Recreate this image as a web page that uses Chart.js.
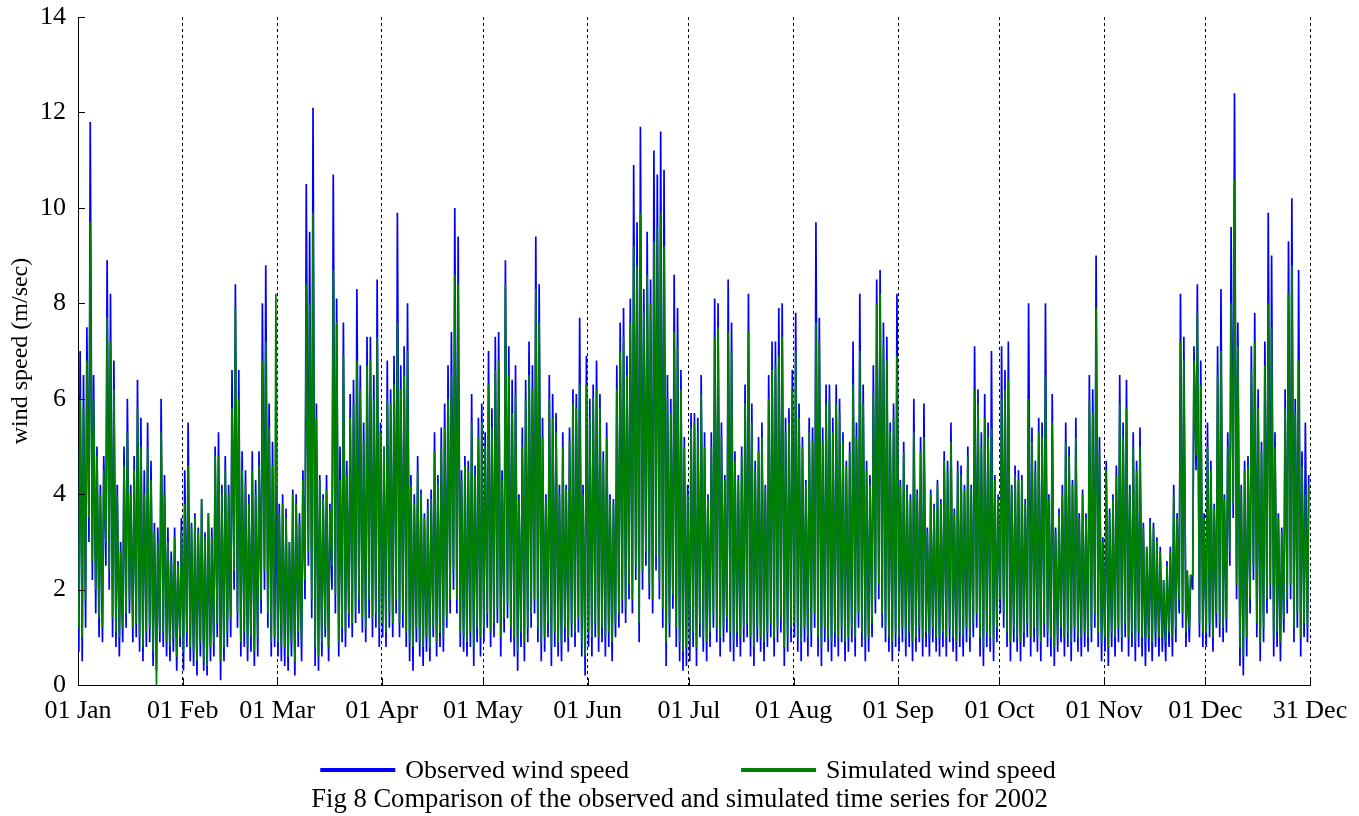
<!DOCTYPE html>
<html>
<head>
<meta charset="utf-8">
<script src="https://cdn.jsdelivr.net/npm/chart.js@4.4.0/dist/chart.umd.min.js"></script>
<style>
  html, body { margin: 0; padding: 0; background: #ffffff; }
  #wrap { width: 1359px; height: 816px; }
</style>
</head>
<body>
<div id="wrap"><canvas id="c" width="1359" height="816"></canvas></div>
<script>
// ---- tick labels / axis data ----
const monthTickHours = [0, 744, 1416, 2160, 2880, 3624, 4344, 5088, 5832, 6552, 7296, 8016, 8760];
const monthTickLabels = ['01 Jan','01 Feb','01 Mar','01 Apr','01 May','01 Jun','01 Jul','01 Aug','01 Sep','01 Oct','01 Nov','01 Dec','31 Dec'];
const seriesNames = ['Observed wind speed', 'Simulated wind speed'];
const captionText = 'Fig 8 Comparison of the observed and simulated time series for 2002';

// ---- daily peaks / lows (m/s), one value per day, Jan..Dec ----
const obsDailyPeak = [
  7.0,6.5,7.5,11.8,6.5,5.0,4.2,4.8,8.9,8.2,6.8,4.2,3.0,5.0,6.0,4.2,4.8,6.4,5.6,4.5,5.5,4.7,3.4,3.3,6.0,4.4,3.3,2.8,3.3,2.6,3.5,
  4.5,5.5,3.4,3.6,3.3,3.9,3.2,3.6,3.3,5.0,5.3,4.2,4.8,4.2,6.6,8.4,6.6,4.9,4.5,4.0,4.9,4.3,4.9,8.0,8.8,5.9,5.1,4.2,
  3.8,4.0,3.7,3.0,4.1,4.0,3.6,4.5,10.5,9.5,12.1,5.9,4.4,4.0,4.4,3.8,10.7,8.1,5.0,7.6,4.7,6.1,6.4,8.3,6.7,5.5,7.3,7.3,6.5,8.5,5.5,
  5.0,6.8,6.2,6.9,9.9,6.7,7.1,8.0,4.4,4.0,4.8,4.1,3.6,3.9,4.1,5.3,4.4,5.4,5.9,6.7,7.4,10.0,9.4,4.5,4.8,4.7,6.1,4.6,5.6,5.9,
  5.3,7.0,5.8,7.3,7.4,4.5,8.9,7.1,6.4,6.7,4.0,5.4,6.4,7.2,6.7,9.4,8.4,5.6,4.0,6.5,6.1,5.7,4.2,5.3,4.2,5.4,6.2,6.1,7.7,4.2,6.9,
  6.0,6.3,6.8,6.1,4.9,5.5,4.0,3.9,6.7,7.6,7.9,6.9,8.1,10.9,9.7,11.7,8.3,9.5,8.5,11.2,10.7,11.6,10.8,6.5,6.0,8.6,7.9,6.6,5.2,4.2,
  5.7,5.7,5.6,6.5,5.3,4.0,5.3,8.1,8.0,5.5,4.4,8.5,7.6,4.9,4.4,5.0,6.3,8.2,5.9,4.7,5.2,5.5,4.2,6.5,7.2,7.2,7.9,8.0,5.6,5.8,6.6,
  7.8,5.9,5.2,4.3,5.6,5.4,9.7,7.7,5.4,6.3,6.3,5.6,6.3,6.0,5.3,4.7,5.1,7.2,5.5,8.2,6.3,4.7,4.4,6.7,8.5,8.7,7.6,7.3,5.5,5.9,8.2,
  4.3,5.1,4.2,4.0,6.0,4.1,5.2,5.9,3.3,4.1,3.8,4.3,3.9,4.9,4.7,5.5,3.7,4.7,4.6,4.2,5.0,4.2,7.1,6.2,5.3,6.1,5.5,7.0,4.4,4.0,
  7.1,6.6,7.2,4.2,4.6,4.5,4.4,3.9,8.0,5.4,4.7,5.6,5.5,8.0,4.0,6.1,3.3,3.7,4.2,5.5,5.0,4.3,5.6,3.6,4.1,3.6,6.5,6.2,9.0,5.2,3.1,
  4.7,3.7,4.0,4.6,6.5,5.5,6.4,4.2,5.3,4.7,5.4,3.4,2.9,3.5,3.4,3.1,2.9,2.2,2.6,2.9,4.2,3.6,8.2,7.3,2.4,2.3,7.1,8.4,6.8,3.6,
  5.5,4.7,3.8,7.1,8.3,4.0,5.3,9.6,12.4,7.6,4.2,4.7,4.8,7.1,7.8,6.2,5.1,7.2,9.9,9.0,5.3,3.6,3.3,6.2,9.3,10.2,6.0,8.7,4.9,5.5,4.4
];
const obsDailyLow = [
  0.7,0.5,1.2,3.0,2.2,1.5,1.0,0.9,2.5,2.0,1.0,0.8,0.6,0.9,1.2,1.5,0.9,1.0,0.7,0.5,0.8,0.9,0.4,0.3,0.9,0.8,0.6,0.5,0.7,0.3,0.8,
  0.3,0.8,0.5,0.4,0.2,0.6,0.3,0.2,0.5,0.6,1.0,0.1,0.5,0.8,1.0,2.0,1.2,0.6,0.8,0.5,0.7,0.4,0.6,1.5,2.0,1.2,0.6,0.8,
  0.6,0.5,0.4,0.3,0.6,0.2,0.8,0.5,1.8,2.5,1.4,0.4,0.3,0.6,1.0,0.5,2.0,1.5,0.6,0.9,0.8,1.2,1.0,1.3,1.5,1.1,0.9,1.4,1.0,1.2,0.8,
  1.0,0.8,1.2,1.0,1.5,1.0,1.2,0.8,0.5,0.3,0.9,0.6,0.4,0.7,0.5,1.0,0.6,0.8,0.7,1.2,1.5,2.0,1.5,0.8,0.7,0.6,0.8,0.4,0.9,0.6,
  0.9,1.2,0.8,1.0,1.3,0.6,1.1,1.4,0.9,0.6,0.3,0.8,0.5,0.9,1.2,1.5,0.9,0.5,0.7,1.0,0.4,0.8,0.6,0.5,0.9,0.7,1.0,0.8,1.1,0.6,0.2,
  0.8,0.6,1.0,0.7,0.9,0.6,0.8,0.5,1.0,1.2,1.5,1.3,1.8,1.5,2.2,0.9,2.0,2.5,1.8,1.5,2.4,1.8,1.2,0.4,1.0,1.6,0.8,0.5,0.3,0.4,
  0.5,0.8,0.4,1.0,0.7,0.5,0.8,1.2,0.9,0.6,0.9,1.1,0.7,0.5,0.8,0.6,0.9,1.0,0.6,0.4,0.9,0.7,0.5,0.8,1.0,0.6,0.9,1.1,0.4,0.7,0.9,
  1.0,0.7,0.5,0.9,0.6,0.8,1.2,0.6,0.4,0.9,0.7,0.5,0.8,0.6,0.9,0.5,0.7,0.9,0.6,1.2,0.8,0.5,0.7,1.0,1.5,1.8,1.2,0.9,0.7,0.5,0.8,
  0.7,0.9,0.6,0.8,0.5,0.7,0.9,0.6,0.8,0.6,0.9,0.7,0.6,0.8,0.6,0.9,0.7,0.5,0.8,0.6,0.9,0.7,1.0,1.2,0.6,0.4,0.8,0.7,0.5,0.9,
  1.5,1.2,0.8,0.5,0.9,0.7,0.5,0.8,1.0,0.6,0.9,0.7,0.5,1.0,0.8,0.6,0.4,0.7,0.9,0.6,0.8,0.5,0.9,0.7,0.6,0.8,0.7,0.9,1.2,0.8,0.5,
  0.7,0.4,0.8,0.6,0.9,0.7,1.0,0.6,0.8,0.5,0.8,0.6,0.4,0.7,0.5,0.8,0.6,0.7,0.5,0.8,0.6,0.9,1.5,1.2,0.8,0.9,2.0,4.5,1.0,0.8,
  0.8,1.0,0.7,1.2,1.0,0.9,1.1,2.5,3.5,1.8,0.4,0.2,0.6,1.5,2.2,1.0,0.5,0.9,1.5,1.8,0.6,0.8,0.5,1.1,1.5,1.8,0.9,1.2,0.6,1.0,0.9
];
const simDailyPeak = [
  6.0,5.8,6.8,9.7,6.0,4.8,4.0,4.5,7.7,7.2,6.2,4.0,2.8,4.6,5.3,4.0,4.5,5.8,5.0,4.0,5.0,4.3,3.2,3.0,5.3,4.0,3.0,2.6,3.1,2.5,3.2,
  3.8,4.6,3.3,3.5,3.2,3.9,3.1,3.6,3.1,4.8,4.8,4.0,4.5,4.0,5.8,7.9,6.0,4.5,4.2,3.8,4.5,4.0,4.6,6.8,7.2,5.4,4.6,8.2,
  3.6,3.8,3.5,3.0,4.0,3.8,3.4,4.3,8.4,8.0,9.9,5.6,4.3,3.9,4.1,3.7,8.7,7.6,4.3,6.9,4.4,5.6,5.9,6.8,6.2,5.1,6.7,6.8,6.0,7.3,5.3,
  5.0,6.0,5.9,6.3,7.6,6.2,6.5,7.0,4.2,3.8,4.5,4.0,3.5,3.7,3.9,4.9,4.2,5.0,5.4,6.0,6.5,8.6,8.4,4.3,4.6,4.5,5.5,4.4,5.2,5.5,
  5.0,6.3,5.4,6.6,6.8,4.3,8.4,6.5,5.7,6.1,3.9,5.0,6.0,6.5,6.2,8.3,7.6,5.2,3.9,6.0,5.6,5.3,4.0,5.0,4.1,5.1,5.9,5.8,6.3,4.0,6.3,
  5.6,6.0,6.2,5.8,4.7,5.2,3.9,3.8,6.2,7.0,7.3,6.5,7.6,9.2,8.8,9.9,7.8,8.6,8.0,9.3,9.6,9.9,9.2,6.0,5.7,7.4,7.1,6.2,5.0,4.0,
  5.4,5.5,5.3,6.1,5.0,3.9,5.0,7.3,7.5,5.2,4.3,7.4,7.0,4.7,4.3,4.8,5.9,7.4,5.5,4.5,4.9,5.2,4.1,6.0,6.6,6.7,6.9,7.3,5.3,5.5,6.2,
  7.0,5.6,5.0,4.2,5.3,5.1,7.6,7.2,5.1,5.9,6.0,5.3,5.9,5.7,5.1,4.6,4.9,6.3,5.2,7.0,5.9,4.5,4.2,6.1,8.0,8.2,7.1,6.8,5.3,5.6,6.9,
  4.2,4.9,4.1,3.9,5.3,4.0,4.9,5.2,3.2,4.0,3.7,4.2,3.8,4.7,4.5,5.1,3.6,4.5,4.4,4.1,4.8,4.1,6.2,5.9,5.0,5.6,5.2,5.4,4.3,3.9,
  6.0,6.2,6.4,4.1,4.4,4.3,4.3,3.8,6.0,5.1,4.5,5.3,5.2,6.5,3.9,5.5,3.2,3.6,4.0,5.1,4.8,4.2,5.2,3.5,4.0,3.5,6.0,5.7,7.9,4.9,3.0,
  4.5,3.6,3.9,4.4,5.9,5.2,5.8,4.1,5.0,4.5,5.0,3.3,2.9,3.4,3.3,3.0,2.8,2.2,2.5,2.8,4.0,3.5,7.2,6.8,2.4,2.3,6.8,7.8,6.3,3.5,
  5.0,4.5,3.7,6.5,7.0,3.9,5.0,8.0,10.6,7.1,4.1,4.5,4.6,6.6,7.2,5.8,4.9,6.7,8.0,7.5,5.0,3.5,3.2,5.8,8.2,8.8,5.7,6.8,4.6,4.0,4.2
];
const simDailyLow = [
  1.2,1.0,1.8,3.5,2.6,2.0,1.4,1.2,3.0,2.4,1.4,1.1,1.0,1.2,1.5,1.8,1.2,1.3,1.0,0.8,1.1,1.2,0.7,0.0,1.1,1.1,0.9,0.8,1.0,0.6,1.0,
  0.7,1.1,0.8,0.7,0.5,0.9,0.5,0.4,0.8,0.9,1.3,0.5,0.8,1.1,1.4,2.4,1.5,0.9,1.1,0.8,1.0,0.7,1.0,1.8,2.4,1.5,0.9,1.0,
  0.9,0.8,0.8,0.6,0.9,0.5,1.1,0.9,2.2,2.8,1.8,0.8,0.6,0.9,1.2,0.8,2.5,1.9,0.9,1.2,1.1,1.5,1.3,1.6,1.8,1.4,1.2,1.8,1.4,1.5,1.2,
  1.3,1.1,1.5,1.3,1.8,1.3,1.5,1.1,0.9,0.8,1.2,0.9,0.8,1.0,0.8,1.2,0.9,1.1,1.0,1.4,1.8,2.4,1.8,1.1,1.0,0.9,1.1,0.8,1.2,1.0,
  1.2,1.5,1.1,1.3,1.6,1.0,1.4,1.7,1.2,1.0,0.7,1.1,0.9,1.2,1.5,1.8,1.2,0.9,1.0,1.3,0.8,1.1,0.9,0.9,1.2,1.0,1.3,1.1,1.4,0.9,0.6,
  1.1,1.0,1.3,1.0,1.2,1.0,1.1,0.9,1.3,1.5,1.8,1.6,2.1,1.8,2.5,1.3,2.4,2.8,2.1,1.8,2.7,2.2,1.6,0.9,1.3,1.9,1.2,0.9,0.7,0.8,
  0.9,1.1,0.8,1.3,1.0,0.9,1.1,1.5,1.2,1.0,1.2,1.4,1.1,0.9,1.1,1.0,1.2,1.3,1.0,0.8,1.2,1.0,0.9,1.1,1.3,1.0,1.2,1.4,0.8,1.0,1.2,
  1.3,1.0,0.9,1.2,1.0,1.1,1.5,1.0,0.8,1.2,1.0,0.9,1.1,1.0,1.2,0.9,1.0,1.2,1.0,1.5,1.1,0.9,1.0,1.3,1.8,2.1,1.5,1.2,1.0,0.9,1.1,
  1.0,1.2,1.0,1.1,0.9,1.0,1.2,1.0,1.1,1.0,1.2,1.0,1.0,1.1,1.0,1.2,1.0,0.9,1.1,1.0,1.2,1.0,1.3,1.5,1.0,0.8,1.1,1.0,0.9,1.2,
  1.8,1.5,1.1,0.9,1.2,1.0,0.9,1.1,1.3,1.0,1.2,1.0,0.9,1.3,1.1,1.0,0.8,1.0,1.2,1.0,1.1,0.9,1.2,1.0,1.0,1.1,1.0,1.2,1.5,1.1,0.9,
  1.0,0.8,1.1,1.0,1.2,1.0,1.3,1.0,1.1,0.9,1.1,1.0,0.9,1.0,0.9,1.1,1.0,1.0,0.9,1.1,1.0,1.2,1.8,1.5,1.1,1.2,2.3,4.8,1.3,1.1,
  1.1,1.3,1.0,1.5,1.3,1.2,1.4,2.8,3.8,2.1,0.8,0.6,1.0,1.8,2.5,1.3,0.9,1.2,1.8,2.1,1.0,1.1,0.9,1.4,1.8,2.1,1.2,1.5,1.0,1.3,1.2
];

// hour of day at which the daily low / peak value is placed
const lowHour = 6, peakHour = 15;

function buildSeries(lows, peaks) {
  const pts = [];
  for (let d = 0; d < peaks.length; d++) {
    pts.push({ x: d * 24 + lowHour, y: lows[d] });
    pts.push({ x: d * 24 + peakHour, y: peaks[d] });
  }
  return pts;
}

const FONT = '"Liberation Serif", "Times New Roman", Times, serif';
Chart.defaults.font.family = FONT;
Chart.defaults.color = '#000';

const inwardTicks = {
  id: 'inwardTicks',
  afterDraw(chart) {
    const { ctx, chartArea } = chart;
    const xs = chart.scales.x, ys = chart.scales.y;
    ctx.save();
    ctx.strokeStyle = '#000';
    ctx.lineWidth = 1;
    ctx.beginPath();
    ys.ticks.forEach(t => {
      const y = Math.round(ys.getPixelForValue(t.value)) + 0.5;
      ctx.moveTo(chartArea.left, y); ctx.lineTo(chartArea.left + 7, y);
    });
    xs.ticks.forEach(t => {
      const x = Math.round(xs.getPixelForValue(t.value)) + 0.5;
      ctx.moveTo(x, chartArea.bottom); ctx.lineTo(x, chartArea.bottom - 7);
    });
    ctx.stroke();
    ctx.restore();
  }
};

const bottomLegend = {
  id: 'bottomLegend',
  afterDraw(chart, args, opts) {
    const ctx = chart.ctx;
    const ds = chart.data.datasets;
    ctx.save();
    ctx.font = opts.fontSize + 'px ' + FONT;
    const widths = ds.map(d => opts.sampleWidth + opts.textGap + ctx.measureText(d.label).width);
    const total = widths.reduce((a, b) => a + b, 0) + opts.itemGap * (ds.length - 1);
    let x = opts.centerX - total / 2;
    const y = opts.y;
    ds.forEach((d, i) => {
      ctx.strokeStyle = d.borderColor;
      ctx.lineWidth = 4;
      ctx.beginPath();
      ctx.moveTo(x, y); ctx.lineTo(x + opts.sampleWidth, y);
      ctx.stroke();
      ctx.fillStyle = '#000';
      ctx.textBaseline = 'middle';
      ctx.textAlign = 'left';
      ctx.fillText(d.label, x + opts.sampleWidth + opts.textGap, y + 1);
      x += widths[i] + opts.itemGap;
    });
    ctx.restore();
  }
};

new Chart(document.getElementById('c'), {
  type: 'line',
  data: {
    datasets: [
      {
        label: seriesNames[0],
        data: buildSeries(obsDailyLow, obsDailyPeak),
        borderColor: '#0000ff',
        backgroundColor: '#0000ff',
        borderWidth: 1.7,
        pointRadius: 0,
        tension: 0,
        order: 2
      },
      {
        label: seriesNames[1],
        data: buildSeries(simDailyLow, simDailyPeak),
        borderColor: '#008000',
        backgroundColor: '#008000',
        borderWidth: 1.7,
        pointRadius: 0,
        tension: 0,
        order: 1
      }
    ]
  },
  options: {
    responsive: false,
    animation: false,
    parsing: false,
    normalized: true,
    layout: { padding: { left: 0, right: 0, top: 17, bottom: 0 } },
    plugins: {
      legend: { display: false },
      tooltip: { enabled: false },
      title: {
        display: true,
        position: 'bottom',
        text: captionText,
        color: '#000',
        font: { size: 26.6, weight: 'normal', family: FONT },
        padding: { top: 54, bottom: 0 }
      },
      bottomLegend: { fontSize: 26, sampleWidth: 75, textGap: 10, itemGap: 112, centerX: 688, y: 770 }
    },
    scales: {
      x: {
        type: 'linear',
        min: 0,
        max: 8760,
        afterFit: s => { s.height = 45; s.paddingLeft = 0; s.paddingRight = 0; },
        afterBuildTicks: s => { s.ticks = monthTickHours.map(v => ({ value: v })); },
        ticks: {
          autoSkip: false,
          maxRotation: 0,
          minRotation: 0,
          padding: 10,
          color: '#000',
          font: { size: 26, family: FONT },
          callback: (v, i) => monthTickLabels[i]
        },
        grid: {
          display: true,
          drawTicks: false,
          drawOnChartArea: true,
          color: ctx => (ctx.tick && ctx.tick.value > 0) ? '#000' : 'rgba(0,0,0,0)',
          lineWidth: 1
        },
        border: { display: true, color: '#000', width: 1, dash: [3, 3] }
      },
      y: {
        min: 0,
        max: 14,
        afterFit: s => { s.width = 78; s.paddingTop = 0; s.paddingBottom = 0; },
        ticks: {
          stepSize: 2,
          padding: 12,
          color: '#000',
          font: { size: 26, family: FONT }
        },
        grid: { display: false, drawTicks: false },
        border: { display: true, color: '#000', width: 1 },
        title: {
          display: true,
          text: 'wind speed (m/sec)',
          color: '#000',
          font: { size: 24, family: FONT },
          padding: { top: 6, bottom: 0 }
        }
      },
      yRight: {
        type: 'linear',
        position: 'right',
        display: true,
        min: 0,
        max: 14,
        afterFit: s => { s.width = 49; s.paddingTop = 0; s.paddingBottom = 0; },
        ticks: { display: false },
        grid: { display: false, drawTicks: false },
        border: { display: false }
      }
    }
  },
  plugins: [inwardTicks, bottomLegend]
});
</script>
</body>
</html>
